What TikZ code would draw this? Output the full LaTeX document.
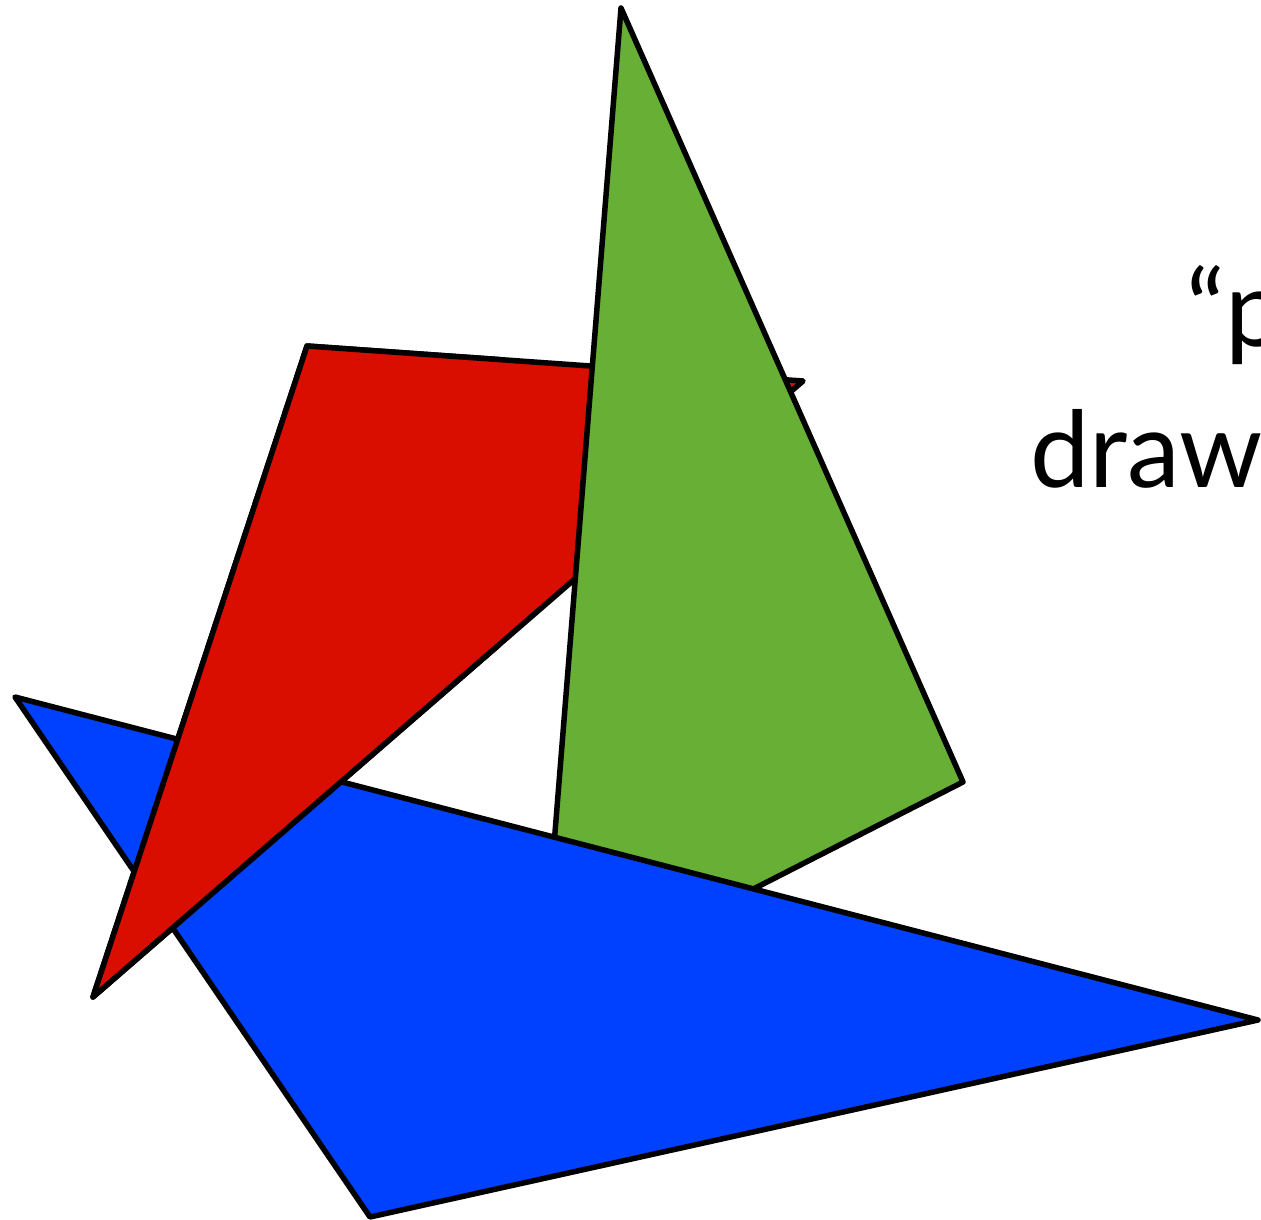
\documentclass[tikz,border=0pt]{standalone}
\usepackage{fontspec}
\setmainfont{Lato}
\definecolor{pred}{RGB}{217,14,0}
\definecolor{pgreen}{RGB}{103,176,53}
\definecolor{pblue}{RGB}{0,64,255}
\begin{document}
\begin{tikzpicture}[x=1pt,y=-1pt,
  poly/.style={draw=black,line width=5.5pt,line join=round},
  label/.style={anchor=base west,inner sep=0pt,font=\fontsize{106}{120}\selectfont}]
\useasboundingbox (0,0) rectangle (1261,1220);
\clip (0,0) rectangle (1261,1220);
% red triangle (drawn first, partly behind green)
\coordinate (r1) at (307,346);
\coordinate (r2) at (803,381);
\coordinate (r3) at (93,997);
\path[poly,fill=pred] (r1) -- (r2) -- (r3) -- cycle;
% green quadrilateral (over red, under blue)
\coordinate (g1) at (621,8);
\coordinate (g2) at (963,782);
\coordinate (g3) at (720,906);
\coordinate (g4) at (552,870);
\path[poly,fill=pgreen] (g1) -- (g2) -- (g3) -- (g4) -- cycle;
% blue triangle (over green)
\coordinate (b1) at (15,697);
\coordinate (b2) at (1258,1020);
\coordinate (b3) at (370,1217);
\path[poly,fill=pblue] (b1) -- (b2) -- (b3) -- cycle;
% red again, over blue on the left part
\begin{scope}
\clip (0,0) rectangle (500,1220);
\path[poly,fill=pred] (r1) -- (r2) -- (r3) -- cycle;
\end{scope}
% text, cut off at the right edge as in the reference
\node[label] (t1) at (1186,346) {“p};
\node[label] (t2) at (1030,487) {draw};
\end{tikzpicture}
\end{document}
